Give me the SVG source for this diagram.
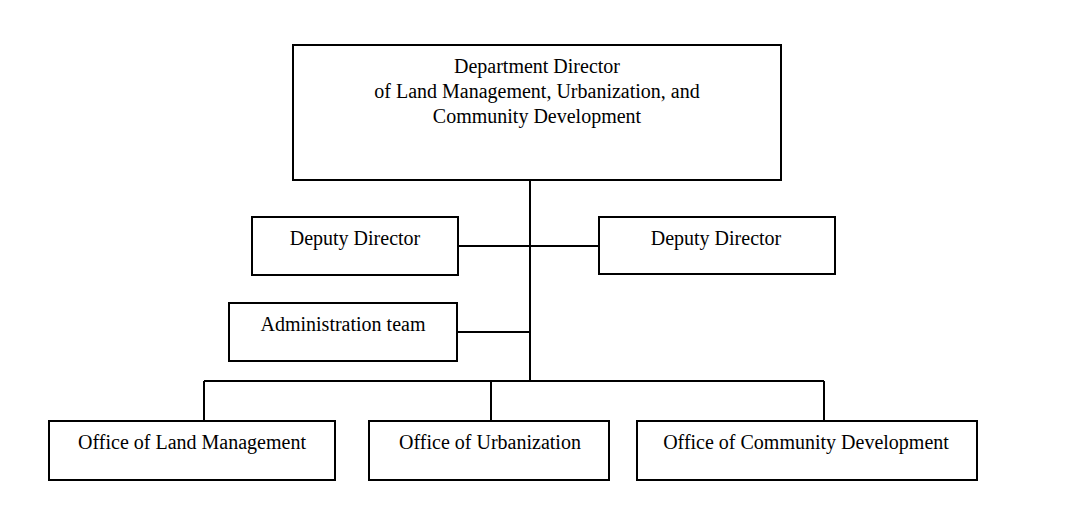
<svg xmlns="http://www.w3.org/2000/svg" width="1067" height="522" viewBox="0 0 1067 522">
<style>
rect{fill:#fff;stroke:#000;stroke-width:2}
line{stroke:#000;stroke-width:2}
text{font-family:"Liberation Serif","Times New Roman",serif;font-size:20px;text-anchor:middle;fill:#000}
</style>
<rect x="0" y="0" width="1067" height="522" style="stroke:none"/>
<g id="connectors">
<line x1="530" y1="180" x2="530" y2="382"/>
<line x1="458" y1="246" x2="599" y2="246"/>
<line x1="457" y1="332" x2="530" y2="332"/>
<line x1="204" y1="381" x2="824" y2="381"/>
<line x1="204" y1="381" x2="204" y2="421"/>
<line x1="491" y1="381" x2="491" y2="421"/>
<line x1="824" y1="381" x2="824" y2="421"/>
</g>
<g id="director"><rect x="293" y="45" width="488" height="135"/>
<text x="537" y="73">Department Director</text>
<text x="537" y="98">of Land Management, Urbanization, and</text>
<text x="537" y="123">Community Development</text></g>
<g id="deputy1"><rect x="252" y="217" width="206" height="58"/><text x="355" y="245">Deputy Director</text></g>
<g id="deputy2"><rect x="599" y="217" width="236" height="57"/><text x="716" y="245">Deputy Director</text></g>
<g id="admin"><rect x="229" y="303" width="228" height="58"/><text x="343" y="331">Administration team</text></g>
<g id="office1"><rect x="49" y="421" width="286" height="59"/><text x="192" y="449">Office of Land Management</text></g>
<g id="office2"><rect x="369" y="421" width="240" height="59"/><text x="490" y="449">Office of Urbanization</text></g>
<g id="office3"><rect x="637" y="421" width="340" height="59"/><text x="806" y="449">Office of Community Development</text></g>
</svg>
